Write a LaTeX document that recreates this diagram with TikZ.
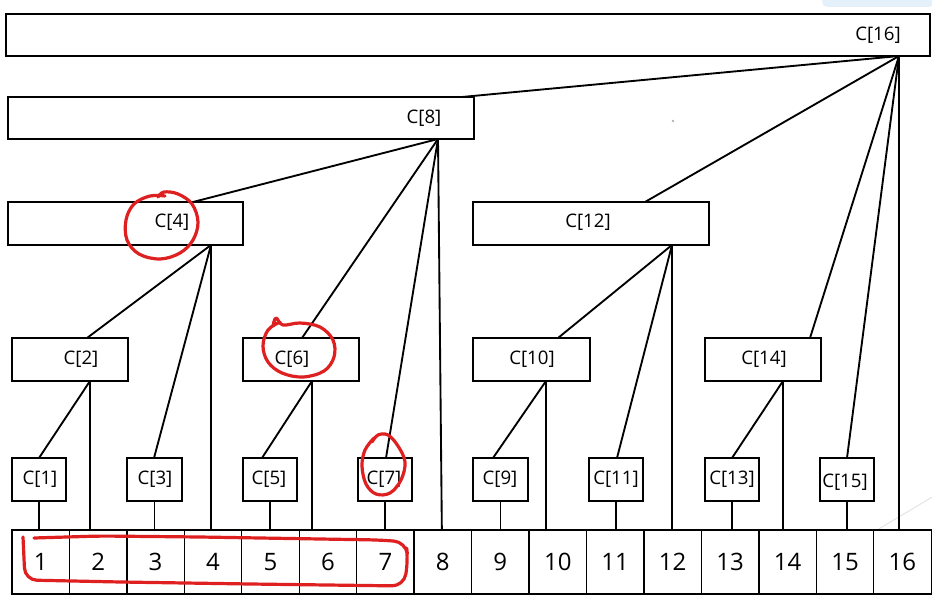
\documentclass[tikz,border=0pt]{standalone}
\usepackage{fontspec}
\setmainfont{Open Sans}
\usetikzlibrary{fit,calc}
\definecolor{pen}{RGB}{222,32,32}
\definecolor{haze}{RGB}{228,240,250}
\begin{document}
\begin{tikzpicture}[x=0.75pt,y=-0.75pt,
  box/.style={draw,line width=1.5pt,inner sep=0pt},
  lab/.style={inner sep=0pt,font=\fontsize{14}{16}\selectfont},
  cellbox/.style={draw,line width=1pt,minimum width=43.1pt,minimum height=48pt,inner sep=0pt,font=\fontsize{18}{20}\selectfont},
  conn/.style={line width=1.4pt},
  redpen/.style={pen,line width=2.4pt,line cap=round,line join=round}]
\useasboundingbox (0,0) rectangle (932,595);
% faint screenshot artefacts
\fill[haze,rounded corners=4pt] (822,-6) rectangle (934,7);
\fill[gray!60] (673,121) circle (1.3);
\coordinate (fa) at (877,530); \coordinate (fb) at (934,496);
\draw[gray!25,line width=0.6pt] (fa) -- (fb);
% boxes
\node[box,fit={(6,14)(930,56)}] (b16) {};
\node[box,fit={(8,97)(474,139)}] (b8) {};
\node[box,fit={(8,202)(243,245)}] (b4) {};
\node[box,fit={(473,202)(709,245)}] (b12) {};
\node[box,fit={(12,338)(128,381)}] (b2) {};
\node[box,fit={(243,338)(359,381)}] (b6) {};
\node[box,fit={(473,338)(590,381)}] (b10) {};
\node[box,fit={(705,338)(821,381)}] (b14) {};
\node[box,fit={(12,458)(66,501)}] (b1) {};
\node[box,fit={(127,458)(182,501)}] (b3) {};
\node[box,fit={(243,458)(297,501)}] (b5) {};
\node[box,fit={(358,458)(412,501)}] (b7) {};
\node[box,fit={(473,458)(528,501)}] (b9) {};
\node[box,fit={(589,458)(643,501)}] (b11) {};
\node[box,fit={(705,458)(759,501)}] (b13) {};
\node[box,fit={(820,458)(874,501)}] (b15) {};
% labels
\node[lab] (l16) at (878,35) {C[16]};
\node[lab] (l8) at (424,118) {C[8]};
\node[lab] (l4) at (172,222) {C[4]};
\node[lab] (l12) at (588,222) {C[12]};
\node[lab] (l2) at (81,359) {C[2]};
\node[lab] (l6) at (292,359) {C[6]};
\node[lab] (l10) at (532,359) {C[10]};
\node[lab] (l14) at (764,359) {C[14]};
\node[lab] (l1) at (40,479) {C[1]};
\node[lab] (l3) at (155,479) {C[3]};
\node[lab] (l5) at (269,479) {C[5]};
\node[lab] (l7) at (384,479) {C[7]};
\node[lab] (l9) at (500,479) {C[9]};
\node[lab] (l11) at (616,479) {C[11]};
\node[lab] (l13) at (732,479) {C[13]};
\node[lab] (l15) at (845,482) {C[15]};
% array cells
\foreach \i in {1,...,16}{
  \node[cellbox] (c\i) at ({-16.75+57.45*\i},562) {\i};
}
% hubs
\coordinate (h16) at (899,56);
\coordinate (h8) at (438,139);
\coordinate (h4) at (211,245);
\coordinate (h12) at (672,245);
\coordinate (h2) at (90,381);
\coordinate (h6) at (312,381);
\coordinate (h10) at (546,381);
\coordinate (h14) at (783,381);
% entry points on child tops
\coordinate (t8) at (462,97);
\coordinate (t12) at (645,202);
\coordinate (t14) at (810,338);
\coordinate (t15) at (847,458);
\coordinate (t4) at (193,202);
\coordinate (t6) at (302,338);
\coordinate (t7) at (386,458);
\coordinate (t2) at (87,338);
\coordinate (t3) at (154,458);
\coordinate (t1) at (39,458);
\coordinate (t5) at (262,458);
\coordinate (t10) at (558,338);
\coordinate (t11) at (617,458);
\coordinate (t9) at (493,458);
\coordinate (t13) at (732,458);
% tree connectors
\draw[conn] (h16) -- (t8);
\draw[conn] (h16) -- (t12);
\draw[conn] (h16) -- (t14);
\draw[conn] (h16) -- (t15);
\draw[conn] (h16) -- (h16 |- c16.north);
\draw[conn] (h8) -- (t4);
\draw[conn] (h8) -- (t6);
\draw[conn] (h8) -- (t7);
\draw[conn] (h8) -- ($(c8.north)+(-1,0)$);
\draw[conn] (h4) -- (t2);
\draw[conn] (h4) -- (t3);
\draw[conn] (h4) -- (h4 |- c4.north);
\draw[conn] (h12) -- (t10);
\draw[conn] (h12) -- (t11);
\draw[conn] (h12) -- (h12 |- c12.north);
\draw[conn] (h2) -- (t1);
\draw[conn] (h2) -- (h2 |- c2.north);
\draw[conn] (h6) -- (t5);
\draw[conn] (h6) -- (h6 |- c6.north);
\draw[conn] (h10) -- (t9);
\draw[conn] (h10) -- (h10 |- c10.north);
\draw[conn] (h14) -- (t13);
\draw[conn] (h14) -- (h14 |- c14.north);
\foreach \k in {1,3,5,7,9,11,13,15}{
  \draw[conn] (b\k.south) -- (b\k.south |- c\k.north);
}
% red hand-drawn annotations
\draw[redpen] plot[smooth,tension=0.6] coordinates {(158,197)(164,192)(178,194)(192,204)(198,222)(193,240)(180,253)(160,259)(139,254)(127,240)(126,220)(134,204)(150,196)(165,196)};
\draw[redpen] plot[smooth,tension=0.6] coordinates {(273,326)(276,318)(283,325)(300,323)(320,327)(333,340)(334,357)(324,371)(303,377)(282,373)(268,362)(263,346)(268,330)(280,322)};
\draw[redpen] plot[smooth,tension=0.6] coordinates {(372,442)(378,435)(388,435)(398,446)(405,462)(401,480)(390,493)(376,494)(366,484)(362,466)(365,450)(374,438)};
\draw[redpen,rounded corners=9pt] (23,537) -- (25,580) -- (120,582) -- (250,584) -- (404,586) -- (408,560) -- (406,542) -- (380,540) -- (200,537) -- (100,536) -- (34,538);
\end{tikzpicture}
\end{document}
